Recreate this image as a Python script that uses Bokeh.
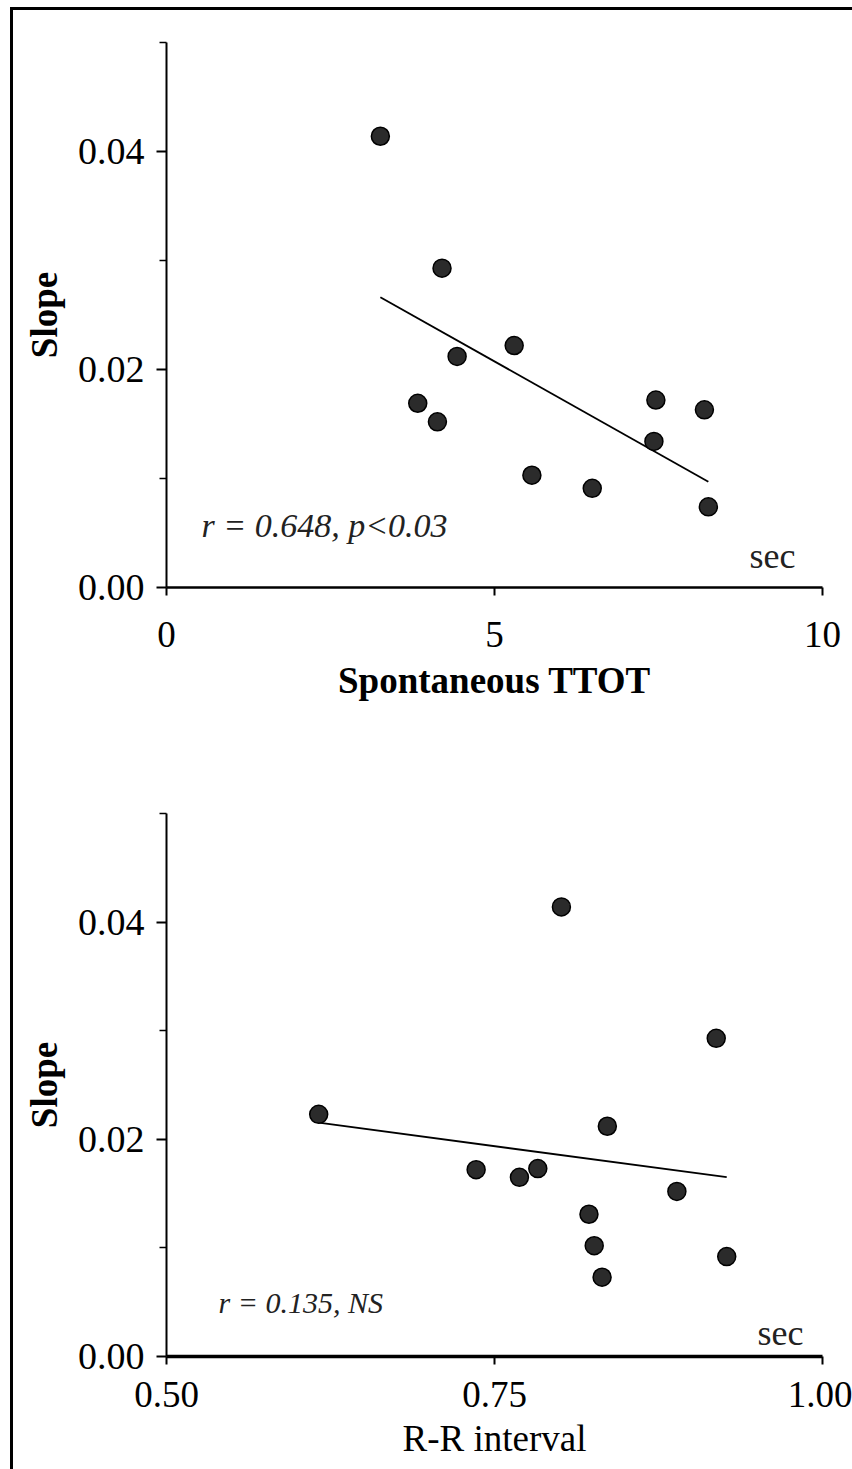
import numpy as np
from bokeh.plotting import figure
from bokeh.layouts import column
from bokeh.models import Range1d, FixedTicker, Label, NumeralTickFormatter
from bokeh.embed import file_html
from bokeh.resources import INLINE

# ---- data ----
ttot_x = [3.26, 4.20, 4.43, 5.30, 3.83, 4.13, 5.57, 6.49, 7.46, 7.43, 8.20, 8.26]
ttot_slope = [0.0414, 0.0293, 0.0212, 0.0222, 0.0169, 0.0152, 0.0103, 0.0091, 0.0172, 0.0134, 0.0163, 0.0074]

rr_x = [0.801, 0.919, 0.616, 0.836, 0.736, 0.769, 0.783, 0.889, 0.822, 0.826, 0.832, 0.927]
rr_slope = [0.0414, 0.0293, 0.0223, 0.0212, 0.0172, 0.0165, 0.0173, 0.0152, 0.0131, 0.0102, 0.0073, 0.0092]

top_xticks = [0, 5, 10]
bot_xticks = [0.50, 0.75, 1.00]
y_ticks = [0.00, 0.02, 0.04]
y_minor = [0.01, 0.03, 0.05]

top_note = "r = 0.648, p<0.03"
bot_note = "r = 0.135, NS"

SERIF = "Liberation Serif"


def make_panel(xs, ys, xr, xticks, xlabel, xlabel_bold, note, note_pos, note_size, sec_pos,
               width, height, borders, xfmt, xaxis_w, tick_standoff, label_standoff):
    p = figure(width=width, height=height, x_range=Range1d(*xr), y_range=Range1d(0, 0.05),
               output_backend="svg", toolbar_location=None,
               min_border_left=borders[0], min_border_right=borders[1],
               min_border_top=borders[2], min_border_bottom=borders[3])
    p.outline_line_color = None
    p.grid.visible = False
    p.background_fill_color = "white"
    p.border_fill_color = "white"

    # x axis
    xa = p.xaxis[0]
    xa.ticker = FixedTicker(ticks=xticks, minor_ticks=[])
    if xfmt:
        xa.formatter = NumeralTickFormatter(format=xfmt)
    xa.axis_line_width = xaxis_w
    xa.axis_line_color = "black"
    xa.major_tick_in = 0
    xa.major_tick_out = 8
    xa.major_tick_line_width = 2
    xa.minor_tick_line_color = None
    xa.major_label_standoff = tick_standoff
    xa.major_label_text_font = SERIF
    xa.major_label_text_font_size = "37px"
    xa.major_label_text_color = "black"
    xa.axis_label = xlabel
    xa.axis_label_text_font = SERIF
    xa.axis_label_text_font_size = "37px"
    xa.axis_label_text_font_style = "bold" if xlabel_bold else "normal"
    xa.axis_label_text_color = "black"
    xa.axis_label_standoff = label_standoff

    # y axis
    ya = p.yaxis[0]
    ya.ticker = FixedTicker(ticks=y_ticks, minor_ticks=y_minor)
    ya.formatter = NumeralTickFormatter(format="0.00")
    ya.axis_line_width = 2
    ya.axis_line_color = "black"
    ya.major_tick_in = 0
    ya.major_tick_out = 10
    ya.major_tick_line_width = 2
    ya.minor_tick_in = 0
    ya.minor_tick_out = 7
    ya.minor_tick_line_width = 1.5
    ya.minor_tick_line_color = "black"
    ya.major_label_standoff = 12
    ya.major_label_text_font = SERIF
    ya.major_label_text_font_size = "38px"
    ya.major_label_text_color = "black"
    ya.axis_label = "Slope"
    ya.axis_label_text_font = SERIF
    ya.axis_label_text_font_size = "37px"
    ya.axis_label_text_font_style = "bold"
    ya.axis_label_text_color = "black"
    ya.axis_label_standoff = 10

    # regression line from least squares fit of the data
    k, b = np.polyfit(xs, ys, 1)
    lx = np.array([min(xs), max(xs)])
    p.line(lx, k * lx + b, line_color="black", line_width=1.8)

    p.scatter(xs, ys, size=18, marker="circle", fill_color="#2b2b2b",
              line_color="black", line_width=1.5)

    p.add_layout(Label(x=note_pos[0], y=note_pos[1], x_units="screen", y_units="screen",
                       text=note, text_font=SERIF, text_font_style="italic",
                       text_font_size=note_size, text_color="#222222"))
    p.add_layout(Label(x=sec_pos[0], y=sec_pos[1], x_units="screen", y_units="screen",
                       text="sec", text_font=SERIF, text_font_size="36px",
                       text_color="#222222", text_align="center"))
    return p


p1 = make_panel(ttot_x, ttot_slope, (0, 10), top_xticks, "Spontaneous TTOT", True,
                top_note, (35, 44), "34px", (606, 12),
                839, 721, (147, 26, 32, 144), None, 2.5, 26, 10)
p2 = make_panel(rr_x, rr_slope, (0.5, 1.0), bot_xticks, "R-R interval", False,
                bot_note, (52, 38), "30px", (614, 4),
                839, 738, (153, 30, 82, 113), "0.00", 3.5, 17, 8)

layout = column(p1, p2, spacing=0, margin=(7, 0, 0, 10),
                styles={"border-left": "3px solid black", "border-top": "3px solid black"})

open("out.html", "w").write(file_html(layout, INLINE))
